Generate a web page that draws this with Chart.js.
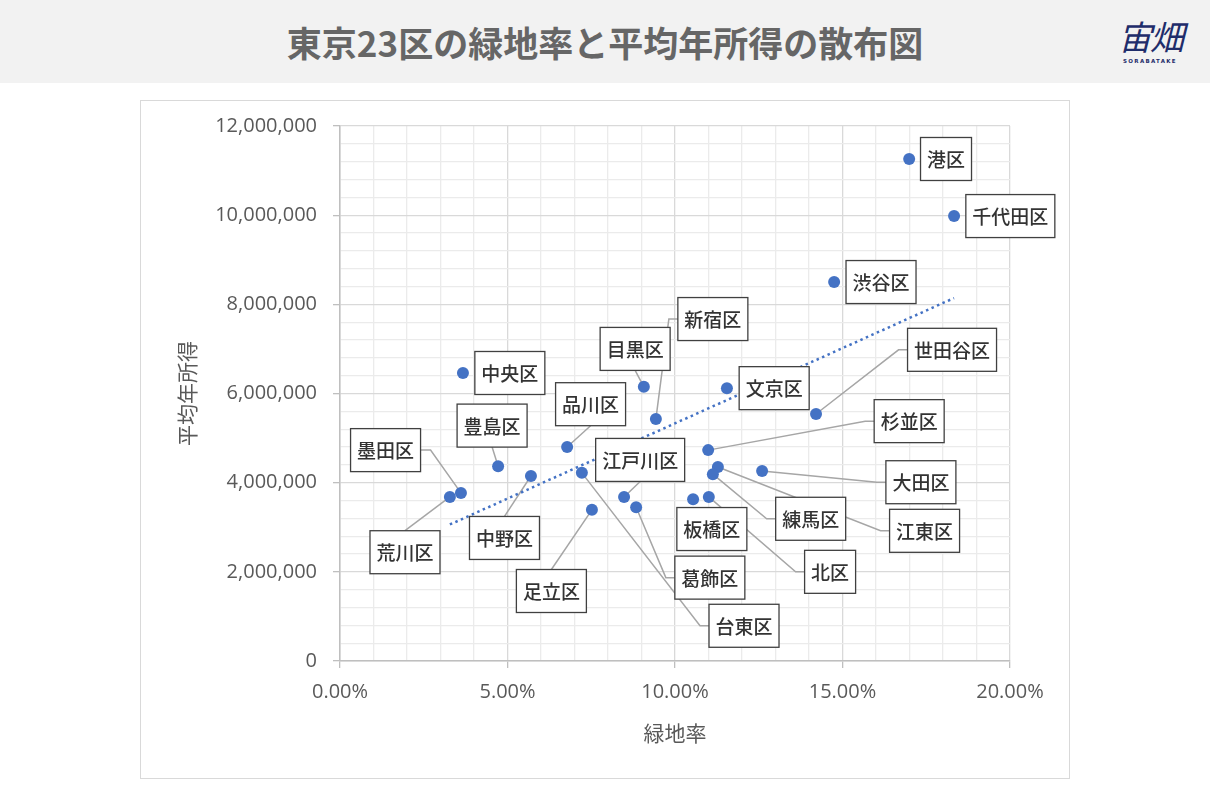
<!DOCTYPE html>
<html lang="ja">
<head>
<meta charset="utf-8">
<title>東京23区の緑地率と平均年所得の散布図</title>
<script src="https://cdn.jsdelivr.net/npm/chart.js@4.4.1/dist/chart.umd.min.js"></script>
<style>
  html, body { margin: 0; padding: 0; background: #fff; }
  body { width: 1210px; height: 805px; position: relative; overflow: hidden; font-family: "Noto Sans CJK JP", sans-serif; }
  #header { position: absolute; left: 0; top: 0; width: 1210px; height: 83px; background: #f2f2f2; }
  #title { position: absolute; left: 0; top: 0; width: 1210px; height: 83px; line-height: 83px; text-align: center;
           font-size: 35px; font-weight: 700; color: #666; }
  #logo { position: absolute; left: 1100px; top: 14px; width: 100px; text-align: center; color: #1f2d6b; }
  #logo .mark { font-size: 34px; line-height: 44px; font-style: italic; font-weight: 400; letter-spacing: -2px; }
  #logo .sub { font-family: "DejaVu Sans", sans-serif; font-size: 5.5px; font-weight: 700; letter-spacing: 1.3px; }
  #box { position: absolute; left: 140px; top: 100px; width: 930px; height: 679px; border: 1px solid #d9d9d9; box-sizing: border-box; }
  #chart { position: absolute; left: 0; top: 0; }
</style>
</head>
<body>
<div id="header"></div>
<div id="title">東京23区の緑地率と平均年所得の散布図</div>
<div id="logo"><div class="mark">宙畑</div><div class="sub">SORABATAKE</div></div>
<div id="box"><canvas id="chart" width="928" height="677"></canvas></div>
<script>
// 区名・緑地率(%)・平均年所得(円)
const districts = ["港区", "千代田区", "渋谷区", "世田谷区", "文京区", "目黒区", "新宿区", "中央区",
  "品川区", "豊島区", "墨田区", "荒川区", "中野区", "足立区", "台東区", "江戸川区", "葛飾区",
  "杉並区", "板橋区", "北区", "江東区", "練馬区", "大田区"];
const greenRate = [16.99, 18.33, 14.75, 14.21, 11.55, 9.07, 9.43, 3.67,
  6.78, 4.72, 3.61, 3.28, 5.70, 7.52, 7.22, 8.48, 8.84,
  10.99, 10.54, 11.01, 11.28, 11.13, 12.60];
const avgIncome = [11260000, 9980000, 8500000, 5540000, 6120000, 6150000, 5430000, 6460000,
  4800000, 4370000, 3770000, 3680000, 4150000, 3390000, 4220000, 3680000, 3450000,
  4730000, 3630000, 3680000, 4350000, 4190000, 4260000];

const xMajorTicks = [0, 5, 10, 15, 20];
const yMajorTicks = [0, 2000000, 4000000, 6000000, 8000000, 10000000, 12000000];

// ラベルの置き場所 (軸の単位) と引き出し線の向き
const labelX = [18.09, 20.01, 16.15, 18.27, 12.96, 8.81, 11.13, 5.07,
  7.48, 4.54, 1.36, 1.94, 4.91, 6.31, 12.06, 8.96, 11.04,
  16.99, 11.10, 14.63, 17.45, 14.05, 17.34];
const labelY = [11260000, 9980000, 8500000, 6980000, 6120000, 7000000, 7670000, 6460000,
  5760000, 5280000, 4730000, 2440000, 2760000, 1570000, 790000, 4510000, 1870000,
  5380000, 2960000, 2000000, 2920000, 3190000, 4010000];
const leader = ["none", "none", "none", "left", "none", "bottom", "left", "none",
  "bottom", "bottom", "right", "top", "top", "top", "left", "bottom", "left",
  "left", "none", "left", "left", "left", "left"];

// 線形近似
let n = greenRate.length;
let mx = greenRate.reduce((a, b) => a + b, 0) / n;
let my = avgIncome.reduce((a, b) => a + b, 0) / n;
let sxy = 0, sxx = 0;
greenRate.forEach((x, i) => { sxy += (x - mx) * (avgIncome[i] - my); sxx += (x - mx) * (x - mx); });
let slope = sxy / sxx;
let icpt = my - slope * mx;
let xLo = Math.min(...greenRate), xHi = Math.max(...greenRate);

const BLUE = "#4472c4";
const LABEL_FONT = '500 19px "Noto Sans CJK JP"';

function boxGeom(chart, i) {
  let ctx = chart.ctx;
  let xs = chart.scales.x, ys = chart.scales.y;
  ctx.font = LABEL_FONT;
  let w = ctx.measureText(districts[i]).width + 13;
  let h = 43;
  let cx = xs.getPixelForValue(labelX[i]);
  let cy = ys.getPixelForValue(labelY[i]);
  return { cx, cy, w, h, l: cx - w / 2, t: cy - h / 2, r: cx + w / 2, b: cy + h / 2 };
}

const labelPlugin = {
  id: "labels",
  beforeDatasetsDraw(chart) {
    let ctx = chart.ctx;
    let xs = chart.scales.x, ys = chart.scales.y;
    ctx.save();
    ctx.strokeStyle = "#a6a6a6";
    ctx.lineWidth = 1.5;
    districts.forEach((d, i) => {
      if (leader[i] === "none") return;
      let g = boxGeom(chart, i);
      let px = xs.getPixelForValue(greenRate[i]);
      let py = ys.getPixelForValue(avgIncome[i]);
      ctx.beginPath();
      if (leader[i] === "left") {
        ctx.moveTo(g.l, g.cy);
        ctx.lineTo(g.l - 9, g.cy);
      } else if (leader[i] === "right") {
        ctx.moveTo(g.r, g.cy);
        ctx.lineTo(g.r + 10, g.cy);
      } else if (leader[i] === "top") {
        ctx.moveTo(g.cx, g.t);
      } else {
        ctx.moveTo(g.cx, g.b);
      }
      ctx.lineTo(px, py);
      ctx.stroke();
    });
    ctx.restore();
  },
  afterDatasetsDraw(chart) {
    let ctx = chart.ctx;
    ctx.save();
    districts.forEach((d, i) => {
      let g = boxGeom(chart, i);
      ctx.fillStyle = "#fff";
      ctx.fillRect(g.l, g.t, g.w, g.h);
      ctx.strokeStyle = "#404040";
      ctx.lineWidth = 1.3;
      ctx.strokeRect(g.l, g.t, g.w, g.h);
      ctx.fillStyle = "#333";
      ctx.font = LABEL_FONT;
      ctx.textAlign = "center";
      ctx.textBaseline = "middle";
      ctx.fillText(d, g.cx, g.cy + 1);
    });
    ctx.restore();
  }
};

const tickFont = { family: '"Open Sans", "Noto Sans CJK JP"', size: 20 };
const titleFont = { family: '"Noto Sans CJK JP"', size: 21 };

new Chart(document.getElementById("chart"), {
  type: "scatter",
  data: {
    datasets: [{
      label: "平均年所得",
      data: greenRate.map((x, i) => ({ x: x, y: avgIncome[i] })),
      backgroundColor: BLUE,
      borderWidth: 0,
      pointRadius: 6,
      pointHoverRadius: 6
    }, {
      label: "線形近似",
      data: [{ x: xLo, y: icpt + slope * xLo }, { x: xHi, y: icpt + slope * xHi }],
      showLine: true,
      borderColor: BLUE,
      borderWidth: 2.5,
      borderDash: [2.5, 3.5],
      pointRadius: 0,
      fill: false
    }]
  },
  options: {
    responsive: false,
    animation: false,
    devicePixelRatio: 1,
    layout: { padding: { top: 25, right: 59, left: 0, bottom: 0 } },
    plugins: {
      legend: { display: false },
      tooltip: { enabled: false }
    },
    scales: {
      x: {
        type: "linear",
        min: 0,
        max: 20,
        afterFit(s) { s.height = 117; s.paddingLeft = 0; s.paddingRight = 0; },
        ticks: {
          stepSize: 1,
          autoSkip: false,
          maxRotation: 0,
          padding: 12,
          color: "#595959",
          font: tickFont,
          callback: v => xMajorTicks.includes(v) ? v.toFixed(2) + "%" : ""
        },
        grid: {
          color: c => (c.tick && c.tick.value % 5 === 0) ? "#d9d9d9" : "#ebebeb",
          tickColor: c => (c.tick && c.tick.value % 5 === 0) ? "#bfbfbf" : "rgba(0,0,0,0)",
          tickLength: 7,
          lineWidth: 1.3
        },
        border: { color: "#bfbfbf", width: 1.5 },
        title: {
          display: true,
          text: "緑地率",
          color: "#595959",
          font: titleFont,
          padding: { top: 0, bottom: 32 }
        }
      },
      y: {
        min: 0,
        max: 12000000,
        afterFit(s) { s.width = 199; s.paddingTop = 0; s.paddingBottom = 0; },
        ticks: {
          stepSize: 400000,
          autoSkip: false,
          padding: 16,
          color: "#595959",
          font: tickFont,
          callback: v => yMajorTicks.includes(v) ? v.toLocaleString("en-US") : ""
        },
        grid: {
          color: c => (c.tick && c.tick.value % 2000000 === 0) ? "#d9d9d9" : "#ebebeb",
          tickColor: c => (c.tick && c.tick.value % 2000000 === 0) ? "#bfbfbf" : "rgba(0,0,0,0)",
          tickLength: 7,
          lineWidth: 1.3
        },
        border: { color: "#bfbfbf", width: 1.5 },
        title: {
          display: true,
          text: "平均年所得",
          color: "#595959",
          font: titleFont,
          padding: { top: 33, bottom: 0 }
        }
      }
    }
  },
  plugins: [labelPlugin]
});
</script>
</body>
</html>
